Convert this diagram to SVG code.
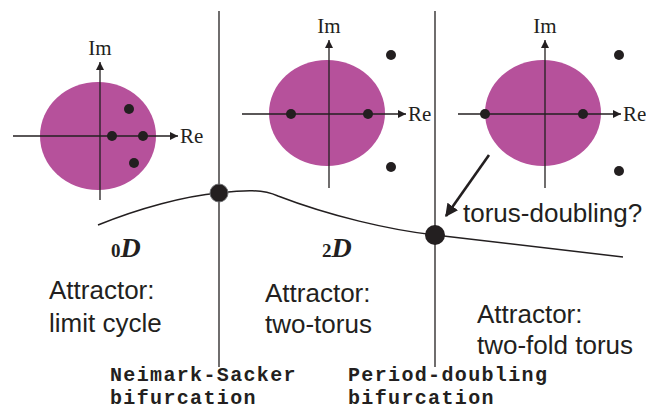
<svg xmlns="http://www.w3.org/2000/svg" width="646" height="416" viewBox="0 0 646 416">
  <defs>
    <marker id="axisHead" viewBox="0 0 10 10" refX="10" refY="5" markerWidth="8" markerHeight="8" markerUnits="userSpaceOnUse" orient="auto">
      <path d="M0,0 L10,5 L0,10 Z" fill="#231f20"/>
    </marker>
    <marker id="boldHead" viewBox="0 0 10 10" refX="9" refY="5" markerWidth="5" markerHeight="5" orient="auto">
      <path d="M0,0 L10,5 L0,10 Z" fill="#231f20"/>
    </marker>
  </defs>
  <style>
    .disk { fill: #b6519b; }
    .axis-arrow { stroke: #231f20; stroke-width: 1.3; fill: none; marker-end: url(#axisHead); }
    .eig { fill: #231f20; }
    .axlabel { font-family: "Liberation Serif", "DejaVu Serif", serif; font-size: 21px; fill: #231f20; }
    .sans { font-family: "Liberation Sans", Arial, sans-serif; font-size: 26px; fill: #231f20; }
    .mono { font-family: "Liberation Mono", "Courier New", monospace; font-size: 20px; letter-spacing: 1.35px; font-weight: bold; fill: #231f20; }
    .dim { font-family: "Liberation Serif", "DejaVu Serif", serif; fill: #231f20; font-weight: bold; }
    .sep { stroke: #231f20; stroke-width: 1.3; }
    .branch { stroke: #231f20; stroke-width: 1.5; fill: none; }
  </style>

  <!-- bifurcation boundaries and the branch curve -->
  <g id="connectors">
    <line class="sep" x1="219" y1="11" x2="219" y2="367"/>
    <line class="sep" x1="435" y1="11" x2="435" y2="367"/>
    <path class="branch" d="M98,225 C140,208 185,196 219,193 C245,190 262,189 278,196 C330,216 390,230 435,235 L623,257"/>
    <line x1="489" y1="155" x2="446" y2="216" stroke="#231f20" stroke-width="2.6" marker-end="url(#boldHead)"/>
  </g>

  <!-- unit circle, limit cycle regime -->
  <g id="spectrum-limit-cycle">
    <ellipse class="disk" cx="98" cy="136" rx="58" ry="54"/>
    <line class="axis-arrow" x1="13" y1="136" x2="178" y2="136"/>
    <line class="axis-arrow" x1="100" y1="200" x2="100" y2="62"/>
    <text class="axlabel" x="100" y="55" text-anchor="middle">Im</text>
    <text class="axlabel" x="180" y="143">Re</text>
    <circle class="eig" cx="112" cy="136" r="5"/>
    <circle class="eig" cx="143" cy="136" r="5"/>
    <circle class="eig" cx="129" cy="109" r="5"/>
    <circle class="eig" cx="134" cy="163" r="5"/>
  </g>

  <!-- unit circle, two-torus regime -->
  <g id="spectrum-two-torus">
    <ellipse class="disk" cx="327" cy="113" rx="58" ry="53"/>
    <line class="axis-arrow" x1="242" y1="114" x2="406" y2="114"/>
    <line class="axis-arrow" x1="329" y1="188" x2="329" y2="40"/>
    <text class="axlabel" x="329" y="33" text-anchor="middle">Im</text>
    <text class="axlabel" x="408" y="121">Re</text>
    <circle class="eig" cx="291" cy="114" r="5"/>
    <circle class="eig" cx="368" cy="114" r="5"/>
    <circle class="eig" cx="391" cy="55" r="5"/>
    <circle class="eig" cx="391" cy="167" r="5"/>
  </g>

  <!-- unit circle, two-fold torus regime -->
  <g id="spectrum-two-fold-torus">
    <ellipse class="disk" cx="543" cy="113" rx="58" ry="53"/>
    <line class="axis-arrow" x1="458" y1="114" x2="621" y2="114"/>
    <line class="axis-arrow" x1="545" y1="188" x2="545" y2="40"/>
    <text class="axlabel" x="545" y="33" text-anchor="middle">Im</text>
    <text class="axlabel" x="623" y="121" font-size="20">Re</text>
    <circle class="eig" cx="485" cy="114" r="5"/>
    <circle class="eig" cx="583" cy="114" r="5"/>
    <circle class="eig" cx="619" cy="55" r="5"/>
    <circle class="eig" cx="619" cy="171" r="5"/>
  </g>

  <!-- bifurcation points -->
  <g id="neimark-sacker-point">
    <circle cx="219" cy="193" r="9" fill="#231f20" stroke="#6d6e71" stroke-width="1"/>
  </g>
  <g id="period-doubling-point">
    <circle cx="435" cy="235" r="10" fill="#231f20"/>
  </g>

  <!-- annotations -->
  <g id="torus-doubling-label">
    <text class="sans" x="463" y="222">torus-doubling?</text>
  </g>
  <g id="dim-0D">
    <text class="dim" x="111" y="257"><tspan font-size="19">0</tspan><tspan font-size="28" font-style="italic">D</tspan></text>
  </g>
  <g id="dim-2D">
    <text class="dim" x="322" y="257"><tspan font-size="19">2</tspan><tspan font-size="28" font-style="italic">D</tspan></text>
  </g>
  <g id="attractor-limit-cycle">
    <text class="sans" x="49" y="299">Attractor:</text>
    <text class="sans" x="49" y="332">limit cycle</text>
  </g>
  <g id="attractor-two-torus">
    <text class="sans" x="265" y="302">Attractor:</text>
    <text class="sans" x="265" y="333">two-torus</text>
  </g>
  <g id="attractor-two-fold-torus">
    <text class="sans" x="477" y="323">Attractor:</text>
    <text class="sans" x="477" y="354">two-fold torus</text>
  </g>
  <g id="ns-label">
    <text class="mono" x="110" y="381">Neimark-Sacker</text>
    <text class="mono" x="110" y="404">bifurcation</text>
  </g>
  <g id="pd-label">
    <text class="mono" x="348" y="381">Period-doubling</text>
    <text class="mono" x="348" y="404">bifurcation</text>
  </g>
</svg>
